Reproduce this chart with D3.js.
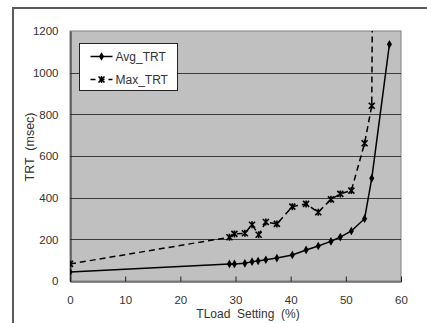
<!DOCTYPE html>
<html>
<head>
<meta charset="utf-8">
<script src="https://cdn.jsdelivr.net/npm/d3@7"></script>
<style>
  body { margin: 0; background: #fff; }
  svg { display: block; font-family: "Liberation Sans", Arial, sans-serif; }
</style>
</head>
<body>
<div id="chart"></div>
<script>
// TLoad setting (%) for each measurement
const avgLoad = [0, 28.9, 29.8, 31.7, 33.0, 34.1, 35.5, 37.5, 40.3, 42.8, 45.0, 47.3, 49.0, 51.0, 53.4, 54.7, 57.9];
const avgTrt = [43, 82, 82, 85, 93, 96, 102, 110, 125, 149, 168, 190, 211, 240, 299, 493, 1136];
const maxLoad = [0, 28.9, 29.8, 31.7, 33.0, 34.2, 35.5, 37.5, 40.3, 42.8, 45.0, 47.3, 49.0, 51.0, 53.4, 54.7, 55.2];
const maxTrt = [82, 210, 226, 229, 270, 222, 283, 274, 357, 370, 330, 392, 418, 434, 661, 841, 3000];
const xTicks = [0, 10, 20, 30, 40, 50, 60];
const yTicks = [0, 200, 400, 600, 800, 1000, 1200];
const seriesNames = ['Avg_TRT', 'Max_TRT'];

const W = 427, H = 323;
const plotL = 70, plotR = 401, plotT = 31, plotB = 281;

const x = d3.scaleLinear().domain([0, 60]).range([plotL, plotR]);
const y = d3.scaleLinear().domain([0, 1200]).range([plotB, plotT]);

const svg = d3.select('#chart').append('svg')
    .attr('width', W)
    .attr('height', H);

// outer chart frame (only left / top edges fall inside the picture)
svg.append('path')
    .attr('d', 'M13,' + H + 'V8H' + W)
    .attr('fill', 'none')
    .attr('stroke', '#5a5a5a')
    .attr('stroke-width', 2);

// plot area
svg.append('rect')
    .attr('x', plotL).attr('y', plotT)
    .attr('width', plotR - plotL).attr('height', plotB - plotT)
    .attr('fill', '#c0c0c0')
    .attr('stroke', '#808080');

// grid lines
svg.append('g')
    .selectAll('line')
    .data(yTicks.filter(d => d > 0 && d < 1200))
    .join('line')
    .attr('x1', plotL).attr('x2', plotR)
    .attr('y1', d => Math.round(y(d)) + 0.5).attr('y2', d => Math.round(y(d)) + 0.5)
    .attr('stroke', '#3c3c3c');

// axes
const xAxis = svg.append('g')
    .attr('transform', 'translate(0,' + (plotB + 0.5) + ')')
    .call(d3.axisBottom(x).tickValues(xTicks).tickFormat(d3.format('d')).tickSize(-5).tickPadding(14));
const yAxis = svg.append('g')
    .attr('transform', 'translate(' + (plotL + 0.5) + ',0)')
    .call(d3.axisLeft(y).tickValues(yTicks).tickFormat(d3.format('d')).tickSize(0).tickPadding(12));

[xAxis, yAxis].forEach(a => {
    a.select('.domain').attr('stroke', '#222');
    a.selectAll('.tick line').attr('stroke', '#222');
    a.selectAll('text').attr('font-size', 11.5).attr('fill', '#333')
        .attr('font-family', '"Liberation Sans", Arial, sans-serif');
});
xAxis.selectAll('.tick').filter(d => d === 0 || d === 60).select('line').remove();

// axis titles
svg.append('text')
    .attr('x', 248).attr('y', 318)
    .attr('text-anchor', 'middle')
    .attr('font-size', 12).attr('fill', '#333')
    .attr('xml:space', 'preserve')
    .text('TLoad  Setting  (%)');
svg.append('text')
    .attr('transform', 'translate(34,147) rotate(-90)')
    .attr('text-anchor', 'middle')
    .attr('font-size', 12.5).attr('fill', '#333')
    .attr('xml:space', 'preserve')
    .text('TRT  (msec)');

// clip series to the plot area
svg.append('clipPath').attr('id', 'plotClip')
    .append('rect')
    .attr('x', plotL).attr('y', plotT)
    .attr('width', plotR - plotL).attr('height', plotB - plotT);

const g = svg.append('g').attr('clip-path', 'url(#plotClip)');

const line = d3.line().x(d => x(d[0])).y(d => y(d[1]));
const avgPts = avgLoad.map((v, i) => [v, avgTrt[i]]);
const maxPts = maxLoad.map((v, i) => [v, maxTrt[i]]);

g.append('path')
    .datum(maxPts)
    .attr('d', line)
    .attr('fill', 'none')
    .attr('stroke', '#000')
    .attr('stroke-width', 1.5)
    .attr('stroke-dasharray', '6,4');

g.append('path')
    .datum(avgPts)
    .attr('d', line)
    .attr('fill', 'none')
    .attr('stroke', '#000')
    .attr('stroke-width', 1.5);

const diamond = d3.symbol().type(d3.symbolDiamond).size(22);
const star = 'M-3,-3L3,3M-3,3L3,-3M0,-3.5V3.5';

g.selectAll('.avgPt')
    .data(avgPts)
    .join('path')
    .attr('class', 'avgPt')
    .attr('transform', d => 'translate(' + x(d[0]) + ',' + y(d[1]) + ')')
    .attr('d', diamond)
    .attr('fill', '#000');

g.selectAll('.maxPt')
    .data(maxPts.slice(0, -1))
    .join('path')
    .attr('class', 'maxPt')
    .attr('transform', d => 'translate(' + x(d[0]) + ',' + y(d[1]) + ')')
    .attr('d', star)
    .attr('fill', 'none')
    .attr('stroke', '#000')
    .attr('stroke-width', 1.6);

// legend
const legend = svg.append('g').attr('transform', 'translate(79.5,43.5)');
legend.append('rect')
    .attr('width', 98).attr('height', 47)
    .attr('fill', '#fff')
    .attr('stroke', '#222');

seriesNames.forEach((name, i) => {
    const ly = 13 + i * 23;
    legend.append('line')
        .attr('x1', 11).attr('x2', 33)
        .attr('y1', ly).attr('y2', ly)
        .attr('stroke', '#000')
        .attr('stroke-width', 1.5)
        .attr('stroke-dasharray', i === 0 ? null : '5,4');
    legend.append('path')
        .attr('transform', 'translate(22,' + ly + ')')
        .attr('d', i === 0 ? diamond() : star)
        .attr('fill', i === 0 ? '#000' : 'none')
        .attr('stroke', i === 0 ? null : '#000')
        .attr('stroke-width', 1.6);
    legend.append('text')
        .attr('x', 36).attr('y', ly + 4.5)
        .attr('font-size', 12).attr('fill', '#333')
        .text(name);
});
</script>
</body>
</html>
